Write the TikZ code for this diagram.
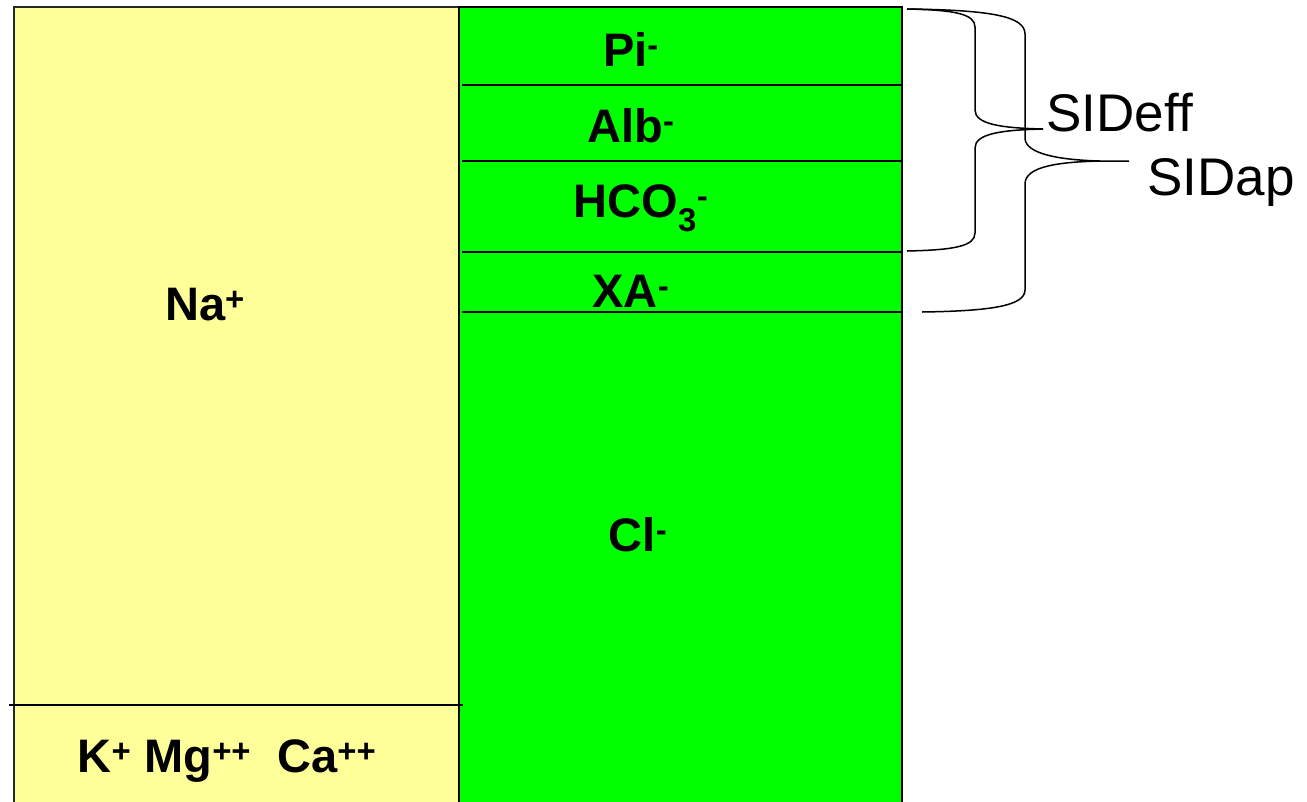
\documentclass[tikz,border=0pt]{standalone}
\usepackage{fontspec}
\setmainfont{Liberation Sans}
\usepackage{tikz}
\usetikzlibrary{positioning,calc}
\definecolor{CationYellow}{RGB}{255,255,153}
\definecolor{AnionGreen}{RGB}{0,255,0}
\definecolor{EdgeGray}{RGB}{40,40,40}

\begin{document}
\begin{tikzpicture}[x=1pt, y=-1pt,
    ion/.style={font=\bfseries\fontsize{47}{47}\selectfont, anchor=base, inner sep=0pt},
    tag/.style={font=\fontsize{53}{53}\selectfont, anchor=base west, inner sep=0pt},
    sep/.style={line width=1.8pt, draw=black},
    brace/.style={line width=1.5pt, draw=black},
]
\path[use as bounding box] (0,0) rectangle (1307,801);
\clip (0,0) rectangle (1307,801);

% columns
\filldraw[fill=CationYellow, draw=EdgeGray, line width=1.5pt] (14,7) rectangle (459,830);
\filldraw[fill=AnionGreen, draw=black, line width=2pt] (459,7) rectangle (902,830);

% dividers
\foreach \y in {85, 161, 252, 312} {
    \draw[sep] (462,\y) -- (901,\y);
}
\draw[sep] (9,705) -- (463,705);

% ions
\node[ion] (pi)  at (631,66)  {Pi\textsuperscript{-}};
\node[ion] (alb) at (631,142) {Alb\textsuperscript{-}};
\node[ion] (hco) at (641,217) {HCO\textsubscript{3}\textsuperscript{-}};
\node[ion] (xa)  at (631,307) {XA\textsuperscript{-}};
\node[ion] (cl)  at (638,551) {Cl\textsuperscript{-}};
\node[ion] (na)  at (205,320) {Na\textsuperscript{+}};
\node[ion] (kmgca) at (227,772) {K\textsuperscript{+} Mg\textsuperscript{++}\ \ Ca\textsuperscript{++}};

% braces
\coordinate (top)    at (907,9);
\coordinate (effbot) at (907,251);
\coordinate (efftip) at (1043,129);
\coordinate (apbot)  at (922,312);
\coordinate (aptip)  at (1129,161);

\draw[brace] (top) .. controls (955,10) and (975,14) .. (975,27) -- (975,110)
    .. controls (975,124) and (1000,128) .. (efftip);
\draw[brace] (efftip) .. controls (1000,130) and (975,134) .. (975,148) -- (975,233)
    .. controls (975,246) and (955,250) .. (effbot);

\draw[brace] (top) .. controls (990,10) and (1025,16) .. (1025,34) -- (1025,138)
    .. controls (1025,154) and (1060,160) .. (1100,161) -- (aptip);
\draw[brace] (1100,161) .. controls (1060,162) and (1025,166) .. (1025,184) -- (1025,290)
    .. controls (1025,306) and (990,311) .. (apbot);

\node[tag] (sideff) at (1046,131) {SIDef\kern0ptf};
\node[tag] (sidap)  at (1147,195) {SIDap};
\end{tikzpicture}
\end{document}
